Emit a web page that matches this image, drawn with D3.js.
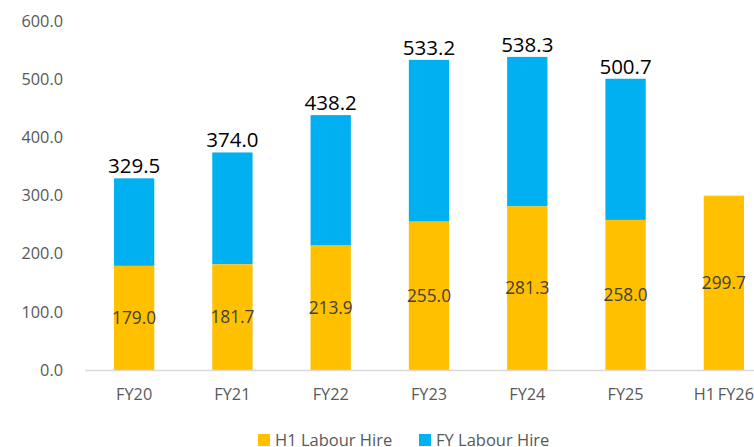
<!DOCTYPE html>
<html>
<head>
<meta charset="utf-8">
<script src="https://cdn.jsdelivr.net/npm/d3@7"></script>
<style>
  body { margin: 0; background: #fff; }
  svg { display: block; font-family: "Open Sans", sans-serif; }
</style>
</head>
<body>
<div id="chart"></div>
<script>
const categories = ['FY20', 'FY21', 'FY22', 'FY23', 'FY24', 'FY25', 'H1FY26'];
const h1Values = [179.0, 181.7, 213.9, 255.0, 281.3, 258.0, 299.7];
const fyTotals = [329.5, 374.0, 438.2, 533.2, 538.3, 500.7, null];
const yTicks = [0, 100, 200, 300, 400, 500, 600];
const seriesNames = ['H1 Labour Hire', 'FY Labour Hire'];
const colors = ['#FFC000', '#00B0F0'];

const width = 754;
const height = 447;

const svg = d3.select('#chart')
    .append('svg')
    .attr('width', width)
    .attr('height', height);

const x = d3.scaleBand()
    .domain(categories)
    .range([85, 773])
    .paddingInner(0.59)
    .paddingOuter(0.295);

const y = d3.scaleLinear()
    .domain([0, 600])
    .range([370, 21]);

// y axis labels, no line
svg.append('g')
    .attr('transform', 'translate(66,0)')
    .call(d3.axisLeft(y).tickValues(yTicks).tickFormat(d3.format('.1f')).tickSize(0))
    .call(g => g.select('.domain').remove())
    .selectAll('text')
    .attr('fill', '#595959')
    .attr('font-size', '16.3px')
    .attr('font-family', '"Open Sans", sans-serif');

// FY segments (from H1 up to FY total)
svg.append('g')
    .selectAll('rect')
    .data(categories.map((c, i) => ({ c, h1: h1Values[i], total: fyTotals[i] })).filter(d => d.total != null))
    .join('rect')
    .attr('x', d => x(d.c))
    .attr('y', d => y(d.total))
    .attr('width', x.bandwidth())
    .attr('height', d => y(d.h1) - y(d.total))
    .attr('fill', colors[1]);

// H1 segments
svg.append('g')
    .selectAll('rect')
    .data(categories.map((c, i) => ({ c, h1: h1Values[i] })))
    .join('rect')
    .attr('x', d => x(d.c))
    .attr('y', d => y(d.h1))
    .attr('width', x.bandwidth())
    .attr('height', d => y(0) - y(d.h1))
    .attr('fill', colors[0]);

// x axis
svg.append('g')
    .attr('transform', `translate(0,${y(0) + 0.5})`)
    .call(d3.axisBottom(x).tickSize(0).tickPadding(18).tickFormat(d => d === 'H1FY26' ? 'H1\u2009FY26' : d))
    .call(g => g.select('.domain').attr('stroke', '#d9d9d9').attr('stroke-width', 1.5).attr('d', `M85,0H${width}`))
    .selectAll('text')
    .attr('fill', '#595959')
    .attr('font-size', '16.3px')
    .attr('font-family', '"Open Sans", sans-serif');

// H1 labels
svg.append('g')
    .selectAll('text')
    .data(categories.map((c, i) => ({ c, v: h1Values[i] })))
    .join('text')
    .attr('x', d => x(d.c) + x.bandwidth() / 2)
    .attr('y', d => (y(0) + y(d.v)) / 2)
    .attr('dy', '0.35em')
    .attr('text-anchor', 'middle')
    .attr('fill', '#404040')
    .attr('font-size', '17.3px')
    .text(d => d.v.toFixed(1));

// total labels
svg.append('g')
    .selectAll('text')
    .data(categories.map((c, i) => ({ c, v: fyTotals[i] })).filter(d => d.v != null))
    .join('text')
    .attr('x', d => x(d.c) + x.bandwidth() / 2)
    .attr('y', d => y(d.v) - 5)
    .attr('text-anchor', 'middle')
    .attr('fill', '#000')
    .attr('font-size', '20.5px')
    .text(d => d.v.toFixed(1));

// legend
const legendX = [258, 419];
const legend = svg.append('g')
    .selectAll('g')
    .data(seriesNames)
    .join('g')
    .attr('transform', (d, i) => `translate(${legendX[i]},434)`);

legend.append('rect')
    .attr('width', 12)
    .attr('height', 12)
    .attr('fill', (d, i) => colors[i]);

legend.append('text')
    .attr('x', 17)
    .attr('y', 6)
    .attr('dy', '0.35em')
    .attr('fill', '#595959')
    .attr('font-size', '16.5px')
    .text(d => d);
</script>
</body>
</html>
